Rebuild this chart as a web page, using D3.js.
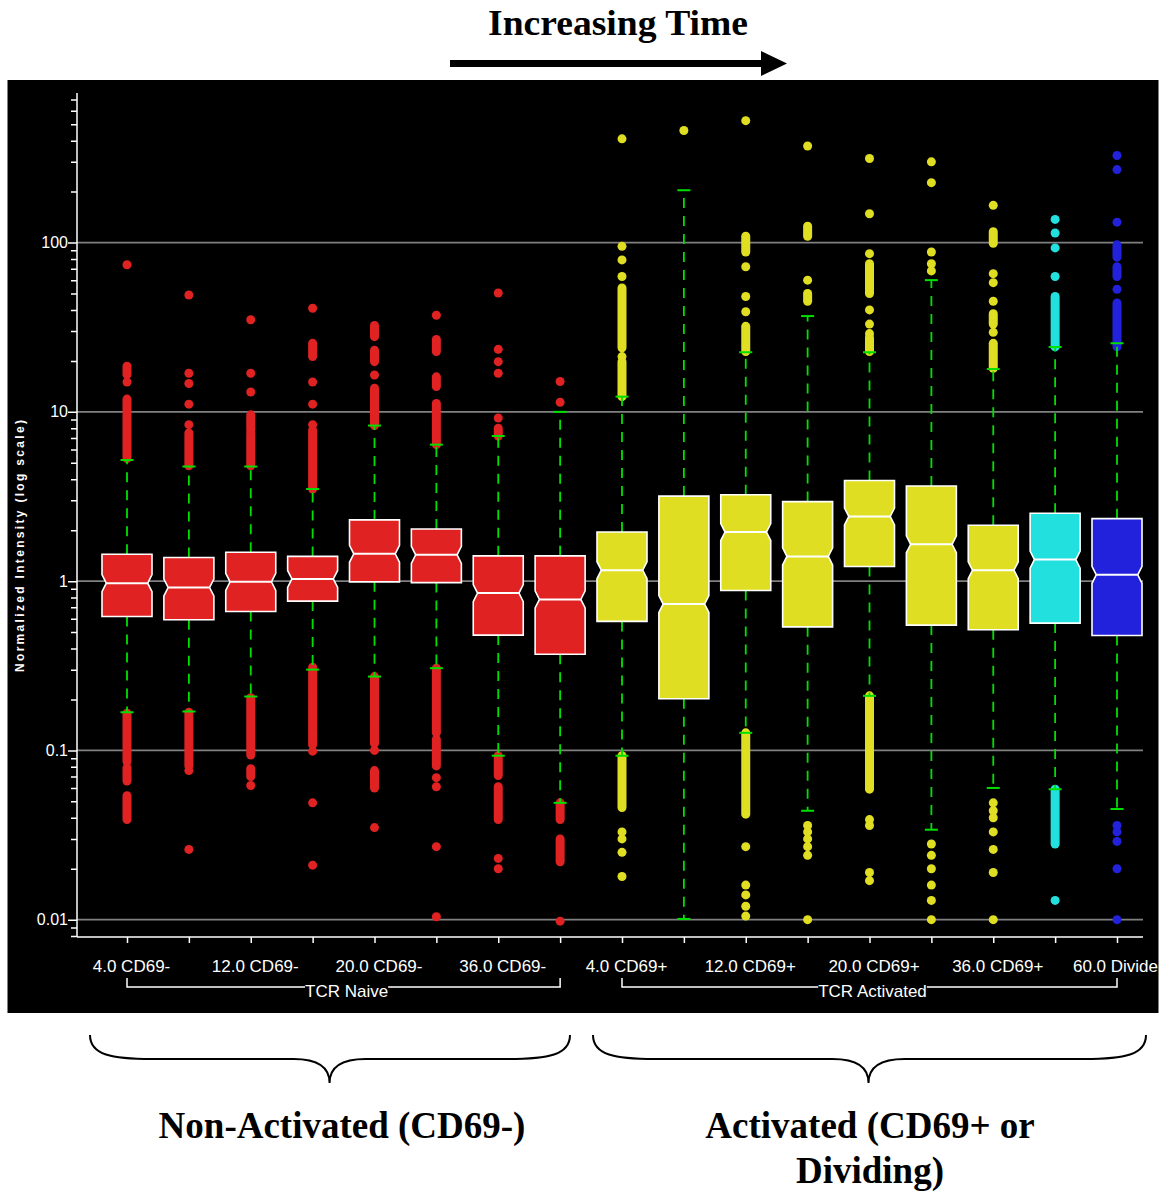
<!DOCTYPE html>
<html>
<head>
<meta charset="utf-8">
<script src="https://cdn.jsdelivr.net/npm/d3@7"></script>
<style>
  body { margin: 0; background: #fff; }
  svg { display: block; }
</style>
</head>
<body>
<svg id="chart" width="1170" height="1192"></svg>
<script>
// one entry per box, left to right
const tickLabels = ['4.0 CD69-', '', '12.0 CD69-', '', '20.0 CD69-', '', '36.0 CD69-', '',
  '4.0 CD69+', '', '12.0 CD69+', '', '20.0 CD69+', '', '36.0 CD69+', '', '60.0 Divide']
const boxKind = ['neg', 'neg', 'neg', 'neg', 'neg', 'neg', 'neg', 'neg',
  'pos', 'pos', 'pos', 'pos', 'pos', 'pos', 'pos', 'mid', 'div']

const q1 = [0.618, 0.591, 0.662, 0.762, 0.99, 0.98, 0.48, 0.37, 0.578, 0.202, 0.88, 0.537, 1.22, 0.55, 0.516, 0.565, 0.477]
const median = [0.973, 0.917, 0.99, 1.03, 1.45, 1.43, 0.85, 0.78, 1.16, 0.732, 1.95, 1.40, 2.41, 1.65, 1.16, 1.34, 1.09]
const q3 = [1.44, 1.38, 1.48, 1.40, 2.3, 2.03, 1.41, 1.41, 1.95, 3.18, 3.24, 2.95, 3.93, 3.65, 2.14, 2.52, 2.34]
const whiskerLow = [0.168, 0.17, 0.208, 0.30, 0.273, 0.306, 0.093, 0.049, 0.093, 0.0101, 0.127, 0.044, 0.21, 0.034, 0.06, 0.059, 0.045]
const whiskerHigh = [5.2, 4.75, 4.75, 3.5, 8.3, 6.4, 7.2, 10.0, 12.3, 204, 22.5, 36.8, 22.5, 60, 17.9, 24.2, 25.4]

// outliers: a number is one point, [lo, hi] is a dense run of points
const outliersHigh = [
  [[5.3, 11.9], 15.0, [16.6, 18.6], 74],
  [[4.8, 7.5], 8.4, 11.1, 14.7, 16.9, 49],
  [[4.8, 7.5], [7.8, 9.6], 13.1, 16.9, 35],
  [[3.5, 7.8], 8.4, 11.1, 15.0, [21.2, 25.4], 40.9],
  [[8.3, 13.8], 16.5, [19.8, 23.1], [27.8, 32.4]],
  [[6.4, 11.2], [14.1, 16.1], [22.7, 26.8], 37.2],
  [[7.2, 8.0], 9.2, 16.9, 19.8, 23.4, 50.4],
  [11.4, 15.1],
  [[12.3, 19.8], 21.2, [23.9, 53.9], 63, 79, 95, 410],
  [459],
  [[22.7, 32], 39, 48, 72, [88, 109], 525],
  [[45, 50], 60, [109, 125], 372],
  [[22.7, 27.5], 29, 33, 40, [50, 75], 86, 148, 314],
  [68, 75, 88, 226, 300],
  [[18.1, 25.4], 29.5, [33, 38], 45, 58, 65.5, [99, 116], 166],
  [[24.2, 48], 63, 93, 114, 137],
  [[24.2, 44], 53, [63, 72], [82, 97], 132, 270, 327]
]
const outliersLow = [
  [[0.086, 0.166], [0.066, 0.079], [0.039, 0.054]],
  [[0.081, 0.168], 0.076, 0.026],
  [[0.094, 0.205], [0.07, 0.078], 0.062],
  [[0.134, 0.31], [0.108, 0.13], 0.099, 0.049, 0.021],
  [[0.15, 0.273], [0.11, 0.146], 0.1, [0.06, 0.076], 0.035],
  [[0.127, 0.306], [0.081, 0.116], 0.069, 0.061, 0.027, 0.0104],
  [[0.071, 0.093], [0.039, 0.061], 0.023, 0.02],
  [[0.039, 0.049], [0.022, 0.030], 0.0098],
  [[0.046, 0.093], 0.033, 0.030, 0.025, 0.018],
  [],
  [[0.042, 0.127], 0.027, 0.016, 0.014, 0.012, 0.0105],
  [0.036, 0.033, 0.030, 0.027, 0.024, 0.01],
  [[0.059, 0.21], 0.039, 0.036, 0.019, 0.017],
  [0.028, 0.024, 0.020, 0.016, 0.013, 0.01],
  [0.049, 0.044, 0.04, 0.033, 0.026, 0.019, 0.01],
  [[0.028, 0.059], 0.013],
  [0.036, 0.033, 0.029, 0.02, 0.01]
]

const groupNames = ['TCR Naive', 'TCR Activated']
const groupFirst = [0, 8]
const groupLast = [7, 16]

const yMajor = [0.01, 0.1, 1, 10, 100]
const yFormat = { 0.01: '0.01', 0.1: '0.1', 1: '1', 10: '10', 100: '100' }

const braceLabels = [['Non-Activated (CD69-)'], ['Activated (CD69+ or', 'Dividing)']]

const svg = d3.select('#chart')
const serif = "'Liberation Serif', 'Times New Roman', serif"
const sans = "'Liberation Sans', Arial, sans-serif"

// black panel
const panel = { x: 7.5, y: 80, w: 1151, h: 933 }
svg.append('defs').append('clipPath').attr('id', 'panel-clip')
  .append('rect').attr('x', panel.x).attr('y', panel.y).attr('width', panel.w).attr('height', panel.h)
svg.append('rect')
  .attr('x', panel.x).attr('y', panel.y).attr('width', panel.w).attr('height', panel.h)
  .attr('fill', 'black')

const plotLeft = 77, plotRight = 1143, plotTop = 93, plotBottom = 937

const x = d3.scalePoint().domain(d3.range(tickLabels.length)).range([127, 1117])
const y = d3.scaleLog().domain([0.0079, 765]).range([plotBottom, plotTop])
const color = d3.scaleOrdinal()
  .domain(['neg', 'pos', 'mid', 'div'])
  .range(['#e02222', '#e0de22', '#22e0de', '#2222dc'])

const chart = svg.append('g').attr('clip-path', 'url(#panel-clip)')

// grid
chart.append('g').selectAll('line')
  .data(yMajor).enter()
  .append('line')
  .attr('x1', plotLeft).attr('x2', plotRight)
  .attr('y1', (d) => y(d)).attr('y2', (d) => y(d))
  .attr('stroke', '#808080').attr('stroke-width', 1.6)

// y axis, minor ticks then major ticks with labels
const minor = []
for (let e = -3; e <= 2; e++) {
  for (let k = 2; k <= 9; k++) {
    const v = k * Math.pow(10, e)
    if (v >= y.domain()[0] && v <= y.domain()[1]) minor.push(v)
  }
}
const yMinor = chart.append('g')
  .attr('transform', `translate(${plotLeft},0)`)
  .call(d3.axisLeft(y).tickValues(minor).tickSize(6).tickSizeOuter(0).tickFormat(''))
yMinor.select('.domain').remove()
const yAxis = chart.append('g')
  .attr('transform', `translate(${plotLeft},0)`)
  .call(d3.axisLeft(y).tickValues(yMajor).tickSize(9).tickPadding(0).tickFormat((d) => yFormat[d]))
yAxis.select('.domain').remove()
chart.selectAll('.tick line').attr('stroke', 'white').attr('stroke-width', 1.5)
yAxis.selectAll('text').attr('fill', 'white').style('font', `16px ${sans}`)

chart.append('line')
  .attr('x1', plotLeft).attr('x2', plotLeft).attr('y1', plotTop).attr('y2', plotBottom)
  .attr('stroke', 'white').attr('stroke-width', 1.5)
chart.append('line')
  .attr('x1', plotLeft).attr('x2', plotRight).attr('y1', plotBottom).attr('y2', plotBottom)
  .attr('stroke', 'white').attr('stroke-width', 1.5)

// x axis
const xAxis = chart.append('g')
  .attr('transform', `translate(0,${plotBottom})`)
  .call(d3.axisBottom(x).tickSize(6).tickPadding(17).tickFormat((i) => tickLabels[i]))
xAxis.select('.domain').remove()
xAxis.selectAll('line').attr('stroke', 'white').attr('stroke-width', 1.5)
xAxis.selectAll('text')
  .attr('fill', 'white')
  .attr('dx', (i) => i === tickLabels.length - 1 ? -2 : 4)
  .style('font', `17px ${sans}`)

// group brackets under the axis
const brTop = 978, brY = 987
groupNames.forEach((name, gi) => {
  const x0 = x(groupFirst[gi]), x1 = x(groupLast[gi])
  const mid = (x0 + x1) / 2 + 3
  const g = chart.append('g')
  const label = g.append('text')
    .attr('x', mid).attr('y', 997)
    .attr('text-anchor', 'middle')
    .attr('fill', 'white')
    .style('font', `17px ${sans}`)
    .text(name)
  const len = label.node().getComputedTextLength()
  g.append('path')
    .attr('d', `M${x0},${brTop}V${brY}H${mid - len / 2}M${mid + len / 2},${brY}H${x1}V${brTop}`)
    .attr('fill', 'none').attr('stroke', 'white').attr('stroke-width', 1.5)
})

// y label
chart.append('text')
  .attr('transform', 'translate(24,546) rotate(-90)')
  .attr('text-anchor', 'middle')
  .attr('fill', 'white')
  .attr('textLength', 252).attr('lengthAdjust', 'spacing')
  .style('font', `bold 12px ${sans}`)
  .text('Normalized Intensity (log scale)')

// outliers
const runs = []
tickLabels.forEach((_, i) => {
  outliersHigh[i].concat(outliersLow[i]).forEach((o) => {
    const r = Array.isArray(o) ? o : [o, o]
    runs.push({ i, lo: r[0], hi: r[1] })
  })
})
chart.append('g').selectAll('rect')
  .data(runs).enter()
  .append('rect')
  .attr('x', (d) => x(d.i) - 4.5)
  .attr('width', 9)
  .attr('y', (d) => y(d.hi) - 4.5)
  .attr('height', (d) => y(d.lo) - y(d.hi) + 9)
  .attr('rx', 4.5)
  .attr('fill', (d) => color(boxKind[d.i]))

// whiskers
const idx = d3.range(tickLabels.length)
const whisk = chart.append('g')
whisk.selectAll('.w-hi')
  .data(idx).enter()
  .append('line')
  .attr('x1', (i) => x(i)).attr('x2', (i) => x(i))
  .attr('y1', (i) => y(q3[i])).attr('y2', (i) => y(whiskerHigh[i]))
  .attr('stroke', '#00e000').attr('stroke-width', 1.8).attr('stroke-dasharray', '10,8')
whisk.selectAll('.w-lo')
  .data(idx).enter()
  .append('line')
  .attr('x1', (i) => x(i)).attr('x2', (i) => x(i))
  .attr('y1', (i) => y(q1[i])).attr('y2', (i) => y(whiskerLow[i]))
  .attr('stroke', '#00e000').attr('stroke-width', 1.8).attr('stroke-dasharray', '10,8')
const caps = idx.map((i) => ({ i, v: whiskerHigh[i] }))
  .concat(idx.map((i) => ({ i, v: whiskerLow[i] })))
whisk.selectAll('.cap')
  .data(caps).enter()
  .append('line')
  .attr('x1', (d) => x(d.i) - 6.5).attr('x2', (d) => x(d.i) + 6.5)
  .attr('y1', (d) => y(d.v)).attr('y2', (d) => y(d.v))
  .attr('stroke', '#00e000').attr('stroke-width', 2)

// notched boxes
const hw = 25, notch = 4.3, nh = 8.5
const boxes = chart.append('g')
idx.forEach((i) => {
  const cx = x(i), top = y(q3[i]), bot = y(q1[i]), m = y(median[i])
  boxes.append('path')
    .attr('d', `M${cx - hw},${top}H${cx + hw}V${m - nh}L${cx + hw - notch},${m}L${cx + hw},${m + nh}V${bot}` +
      `H${cx - hw}V${m + nh}L${cx - hw + notch},${m}L${cx - hw},${m - nh}Z`)
    .attr('fill', color(boxKind[i]))
    .attr('stroke', 'white').attr('stroke-width', 1.6)
  boxes.append('line')
    .attr('x1', cx - hw + notch).attr('x2', cx + hw - notch)
    .attr('y1', m).attr('y2', m)
    .attr('stroke', 'white').attr('stroke-width', 2)
})

// title and arrow
svg.append('text')
  .attr('x', 618).attr('y', 35)
  .attr('text-anchor', 'middle')
  .attr('textLength', 260).attr('lengthAdjust', 'spacingAndGlyphs')
  .style('font', `bold 36px ${serif}`)
  .text('Increasing Time')
svg.append('line')
  .attr('x1', 450).attr('x2', 764).attr('y1', 63.5).attr('y2', 63.5)
  .attr('stroke', 'black').attr('stroke-width', 7)
svg.append('path')
  .attr('d', 'M761,51L787,63.5L761,76Z')
  .attr('fill', 'black')

// braces under the panel
const braceX0 = [90, 593], braceX1 = [570, 1146]
const by0 = 1035, by1 = 1059, by2 = 1083
braceLabels.forEach((lines, bi) => {
  const x0 = braceX0[bi], x1 = braceX1[bi], cx = (x(groupFirst[bi]) + x(groupLast[bi])) / 2 + (bi === 0 ? -14 : -1)
  svg.append('path')
    .attr('d', `M${x0},${by0}C${x0},${by0 + 20} ${x0 + 22},${by1} ${x0 + 62},${by1}` +
      `L${cx - 36},${by1}C${cx - 12},${by1} ${cx},${by1 + 8} ${cx},${by2}` +
      `C${cx},${by1 + 8} ${cx + 12},${by1} ${cx + 36},${by1}` +
      `L${x1 - 62},${by1}C${x1 - 22},${by1} ${x1},${by0 + 20} ${x1},${by0}`)
    .attr('fill', 'none').attr('stroke', 'black').attr('stroke-width', 2)
  lines.forEach((t, li) => {
    svg.append('text')
      .attr('x', bi === 0 ? 342 : 870).attr('y', 1138 + li * 45)
      .attr('text-anchor', 'middle')
      .style('font', `bold 37px ${serif}`)
      .text(t)
  })
})
</script>
</body>
</html>
